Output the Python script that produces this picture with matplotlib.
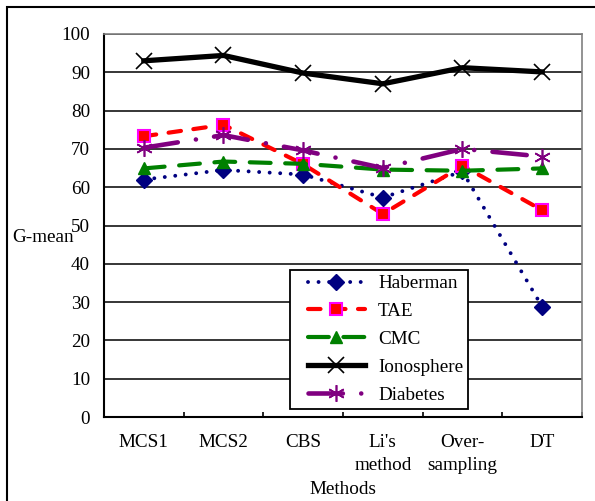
import matplotlib.pyplot as plt
from matplotlib.patches import Rectangle
from matplotlib.lines import Line2D
from matplotlib.legend_handler import HandlerLine2D

# ---- data ----
methods = ['MCS1', 'MCS2', 'CBS', "Li's\nmethod", 'Over-\nsampling', 'DT']
haberman = [62.0, 64.5, 63.3, 57.3, 64.1, 28.8]
tae = [73.3, 76.3, 66.0, 53.0, 65.6, 54.0]
cmc = [64.9, 66.7, 66.1, 64.6, 64.3, 64.9]
ionosphere = [93.0, 94.4, 89.8, 87.0, 91.2, 90.1]
diabetes = [70.3, 73.6, 69.6, 65.0, 70.0, 68.0]
# ---- end data ----

plt.rcParams['font.family'] = ['Liberation Serif', 'DejaVu Serif']
plt.rcParams['font.size'] = 13.8

fig = plt.figure(figsize=(5.95, 5.01), dpi=100)
ax = fig.add_axes([104 / 595, 84 / 501, 478 / 595, 383 / 501])

x = list(range(len(methods)))

ax.plot(x, haberman, color='#000080', lw=2.8, linestyle=(0, (0.01, 2.7)),
        dash_capstyle='round', marker='D', ms=8, mec='#000080', mfc='#000080',
        label='Haberman')
ax.plot(x, tae, color='#FF0000', lw=3.0, linestyle=(0, (3.0, 3.0)),
        dash_capstyle='round', marker='s', ms=9, mfc='#FF0000', mec='#FF00FF',
        mew=1.5, label='TAE')
ax.plot(x, cmc, color='#008000', lw=3.0, linestyle=(0, (5.0, 3.5)),
        dash_capstyle='round', marker='^', ms=9, mfc='#008000', mec='#008000',
        label='CMC')
ax.plot(x, ionosphere, color='black', lw=3.8, marker='x', ms=11, mew=1.2,
        label='Ionosphere')
ax.plot(x, diabetes, color='#800080', lw=3.3, linestyle=(0, (7.5, 4.0, 0.01, 4.0)),
        dash_capstyle='round', marker=(6, 2, 0), ms=12, mew=1.2, mec='#800080',
        label='Diabetes')

ax.set_xlim(-0.5, len(methods) - 0.5)
ax.set_ylim(0, 100)
ax.set_yticks(range(0, 101, 10))
ax.grid(axis='y', color='black', lw=1.1)
ax.set_axisbelow(True)

ax.set_xticks(x)
ax.set_xticklabels(methods, linespacing=1.5)
ax.set_xticks([i + 0.5 for i in range(-1, len(methods))], minor=True)
ax.tick_params(axis='x', which='major', length=0, pad=12)
ax.tick_params(axis='x', which='minor', direction='in', length=3.5, width=1.2)
ax.tick_params(axis='y', length=0, pad=10)

for s in ['left', 'bottom']:
    ax.spines[s].set_color('black')
    ax.spines[s].set_linewidth(1.5)
for s in ['top', 'right']:
    ax.spines[s].set_color('#808080')
    ax.spines[s].set_linewidth(1.2)

leg = ax.legend(loc='upper left', bbox_to_anchor=((290 - 104) / 478, (417 - 270) / 383),
                borderaxespad=0, borderpad=0.25, handlelength=3.67, handletextpad=0.68,
                labelspacing=0.55, fancybox=False, framealpha=1,
                edgecolor='black', numpoints=1,
                handler_map={Line2D: HandlerLine2D(xpad=0.67, numpoints=1)})
leg.get_frame().set_linewidth(1.3)

fig.text(12 / 595, (501 - 237) / 501, 'G-mean', ha='left', va='center')
fig.text(343 / 595, (501 - 489) / 501, 'Methods', ha='center', va='center')

# outer border of the original figure
fig.patches.append(Rectangle((7 / 595, -0.2), 2.0, 1.2 - 7 / 501,
                             transform=fig.transFigure, fill=False,
                             edgecolor='black', lw=1.5))

fig.savefig('out.png', dpi=100)
